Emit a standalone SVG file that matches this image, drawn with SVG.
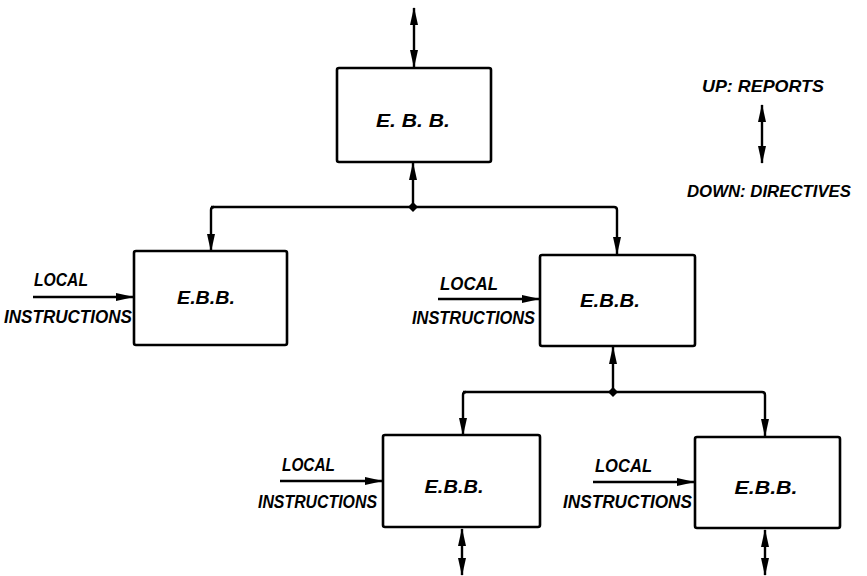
<svg xmlns="http://www.w3.org/2000/svg" width="867" height="576" viewBox="0 0 867 576">
<style>
.box{fill:#fff;stroke:#000;stroke-width:2.6}
.ln{fill:none;stroke:#000;stroke-width:2.4;stroke-linejoin:round}
.t{font-family:"Liberation Sans",Arial,sans-serif;font-style:italic;font-weight:bold;font-size:19px;fill:#000}
.lg{font-size:17px}
.m{text-anchor:middle}
.dot{fill:#000}
</style>
<defs>
<marker id="ah" viewBox="0 0 18 10" markerWidth="18" markerHeight="10" refX="17" refY="5" orient="auto-start-reverse" markerUnits="userSpaceOnUse">
<path d="M0,1 L18,5 L0,9 z" fill="#000"/>
</marker>
</defs>
<g id="connectors">
<line class="ln" x1="414" y1="8" x2="414" y2="67" marker-start="url(#ah)" marker-end="url(#ah)"/>
<line class="ln" x1="413" y1="207" x2="413" y2="163" marker-end="url(#ah)"/>
<path class="ln" d="M211,207 H614 Q617,207 617,210 V254" marker-end="url(#ah)"/>
<path class="ln" d="M214,207 Q211,207 211,210 V251" marker-end="url(#ah)"/>
<path class="dot" d="M413,202 L418,207 L413,212 L408,207 z"/>
<line class="ln" x1="613" y1="392" x2="613" y2="347" marker-end="url(#ah)"/>
<path class="ln" d="M463,392 H762 Q765,392 765,395 V436" marker-end="url(#ah)"/>
<path class="ln" d="M466,392 Q463,392 463,395 V435" marker-end="url(#ah)"/>
<path class="dot" d="M613,387 L618,392 L613,397 L608,392 z"/>
<line class="ln" x1="33" y1="297" x2="133" y2="297" marker-end="url(#ah)"/>
<line class="ln" x1="438" y1="299" x2="539" y2="299" marker-end="url(#ah)"/>
<line class="ln" x1="280" y1="481" x2="382" y2="481" marker-end="url(#ah)"/>
<line class="ln" x1="593" y1="482" x2="694" y2="482" marker-end="url(#ah)"/>
<line class="ln" x1="462" y1="529" x2="462" y2="575" marker-start="url(#ah)" marker-end="url(#ah)"/>
<line class="ln" x1="765" y1="530" x2="765" y2="575" marker-start="url(#ah)" marker-end="url(#ah)"/>
<line class="ln" x1="762" y1="105" x2="762" y2="163" marker-start="url(#ah)" marker-end="url(#ah)"/>
</g>
<g id="ebb-top">
<rect class="box" x="337" y="68" width="154" height="94" rx="2"/>
<text class="t m" x="413" y="127" textLength="74" lengthAdjust="spacingAndGlyphs">E. B. B.</text>
</g>
<g id="ebb-left">
<rect class="box" x="134" y="251" width="153" height="94" rx="2"/>
<text class="t m" x="206" y="304" textLength="58" lengthAdjust="spacingAndGlyphs">E.B.B.</text>
<text class="t" x="34" y="286" textLength="54" lengthAdjust="spacingAndGlyphs">LOCAL</text>
<text class="t" x="4" y="323" textLength="128" lengthAdjust="spacingAndGlyphs">INSTRUCTIONS</text>
</g>
<g id="ebb-right">
<rect class="box" x="540" y="255" width="155" height="91" rx="2"/>
<text class="t m" x="610" y="307" textLength="60" lengthAdjust="spacingAndGlyphs">E.B.B.</text>
<text class="t" x="440" y="290" textLength="58" lengthAdjust="spacingAndGlyphs">LOCAL</text>
<text class="t" x="412" y="324" textLength="123" lengthAdjust="spacingAndGlyphs">INSTRUCTIONS</text>
</g>
<g id="ebb-bottom-left">
<rect class="box" x="383" y="435" width="157" height="92" rx="2"/>
<text class="t m" x="454" y="493" textLength="59" lengthAdjust="spacingAndGlyphs">E.B.B.</text>
<text class="t" x="282" y="471" textLength="53" lengthAdjust="spacingAndGlyphs">LOCAL</text>
<text class="t" x="258" y="508" textLength="119" lengthAdjust="spacingAndGlyphs">INSTRUCTIONS</text>
</g>
<g id="ebb-bottom-right">
<rect class="box" x="695" y="437" width="145" height="91" rx="2"/>
<text class="t m" x="766" y="494" textLength="63" lengthAdjust="spacingAndGlyphs">E.B.B.</text>
<text class="t" x="595" y="472" textLength="57" lengthAdjust="spacingAndGlyphs">LOCAL</text>
<text class="t" x="563" y="508" textLength="129" lengthAdjust="spacingAndGlyphs">INSTRUCTIONS</text>
</g>
<g id="legend">
<text class="t lg" x="702" y="92" textLength="122" lengthAdjust="spacingAndGlyphs">UP: REPORTS</text>
<text class="t lg" x="687" y="197" textLength="164" lengthAdjust="spacingAndGlyphs">DOWN: DIRECTIVES</text>
</g>
</svg>
